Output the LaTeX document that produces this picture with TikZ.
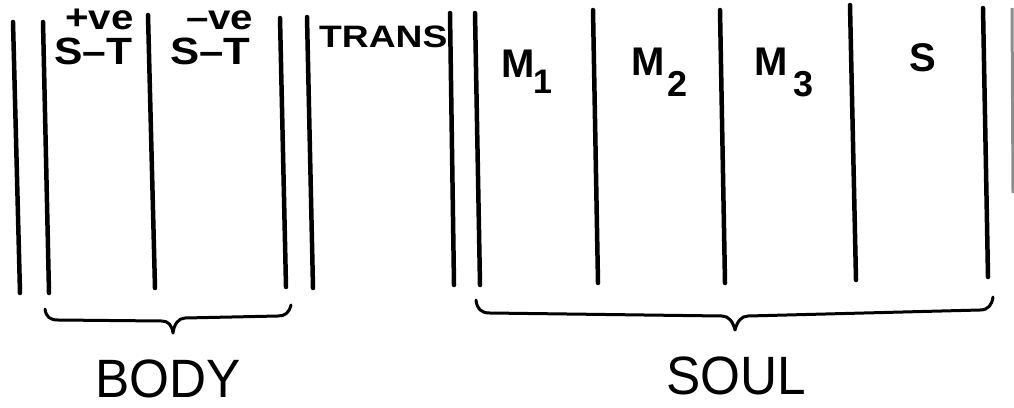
\documentclass[tikz,border=0pt]{standalone}
\usepackage{fontspec}
\setmainfont{Liberation Sans}
\usepackage{graphicx}
\begin{document}
\begin{tikzpicture}[x=1pt,y=-1pt,
  bar/.style={line width=4.5pt, line cap=round},
  bracepath/.style={line width=3pt, line cap=round, line join=round},
  lbl/.style={inner sep=0pt, anchor=base west},
  tight/.style={text depth=0pt}]
\useasboundingbox (0,0) rectangle (1014,407);
% vertical bars
\draw[bar] (13,22) -- (20,293);
\draw[bar] (43,22) -- (49,293);
\draw[bar] (148,15) -- (155,288);
\draw[bar] (280,18) -- (286,287);
\draw[bar] (307,17) -- (313,288);
\draw[bar] (450,13) -- (454,285);
\draw[bar] (475,13) -- (480,285);
\draw[bar] (593,10) -- (598,283);
\draw[bar] (720,10) -- (725,283);
\draw[bar] (850,5) -- (856,280);
\draw[bar] (983,8) -- (988,277);
\draw[line width=3pt, black!45] (1012,8) -- (1013,193);
% labels
\node[lbl, tight] (pve) at (65,29) {\fontsize{35}{35}\selectfont\bfseries\scalebox{1.15}[1]{+ve}};
\node[lbl, tight, text height=27pt] (st1) at (54,64) {\fontsize{38}{38}\selectfont\bfseries\scalebox{1.12}[1]{S–T}};
\node[lbl, tight] (nve) at (186,29) {\fontsize{35}{35}\selectfont\bfseries\scalebox{1.15}[1]{–ve}};
\node[lbl, tight, text height=27pt] (st2) at (170,64) {\fontsize{38}{38}\selectfont\bfseries\scalebox{1.15}[1]{S–T}};
\node[lbl] (trans) at (319,47) {\fontsize{31}{31}\selectfont\bfseries\scalebox{1.2}[1]{TRANS}};
\node[lbl] (m1) at (501,77) {\fontsize{40}{40}\selectfont\bfseries M};
\node[lbl] (m1s) at (533,93) {\fontsize{34}{34}\selectfont\bfseries 1};
\node[lbl] (m2) at (631,75) {\fontsize{40}{40}\selectfont\bfseries M};
\node[lbl] (m2s) at (667,96) {\fontsize{36}{36}\selectfont\bfseries 2};
\node[lbl] (m3) at (754,75) {\fontsize{40}{40}\selectfont\bfseries M};
\node[lbl] (m3s) at (793,96) {\fontsize{36}{36}\selectfont\bfseries 3};
\node[lbl] (s) at (909,71) {\fontsize{40}{40}\selectfont\bfseries S};
% braces
\draw[bracepath] (45,309) .. controls (46,317) and (50,320) .. (58,320) -- (162,321)
  .. controls (168,321) and (172,325) .. (173,333)
  .. controls (174,325) and (178,318) .. (185,318) -- (278,316)
  .. controls (285,316) and (289,313) .. (291,305);
\draw[bracepath] (476,300) .. controls (477,309) and (481,313) .. (490,313) -- (722,316)
  .. controls (729,316) and (733,322) .. (735,330)
  .. controls (737,322) and (741,316) .. (748,316) -- (980,310)
  .. controls (988,310) and (992,305) .. (993,297);
\node[lbl, anchor=base] (body) at (168,397) {\fontsize{54}{54}\selectfont\scalebox{0.95}[1]{BODY}};
\node[lbl, anchor=base] (soul) at (736,394) {\fontsize{54}{54}\selectfont\scalebox{0.95}[1]{SOUL}};
\end{tikzpicture}
\end{document}
